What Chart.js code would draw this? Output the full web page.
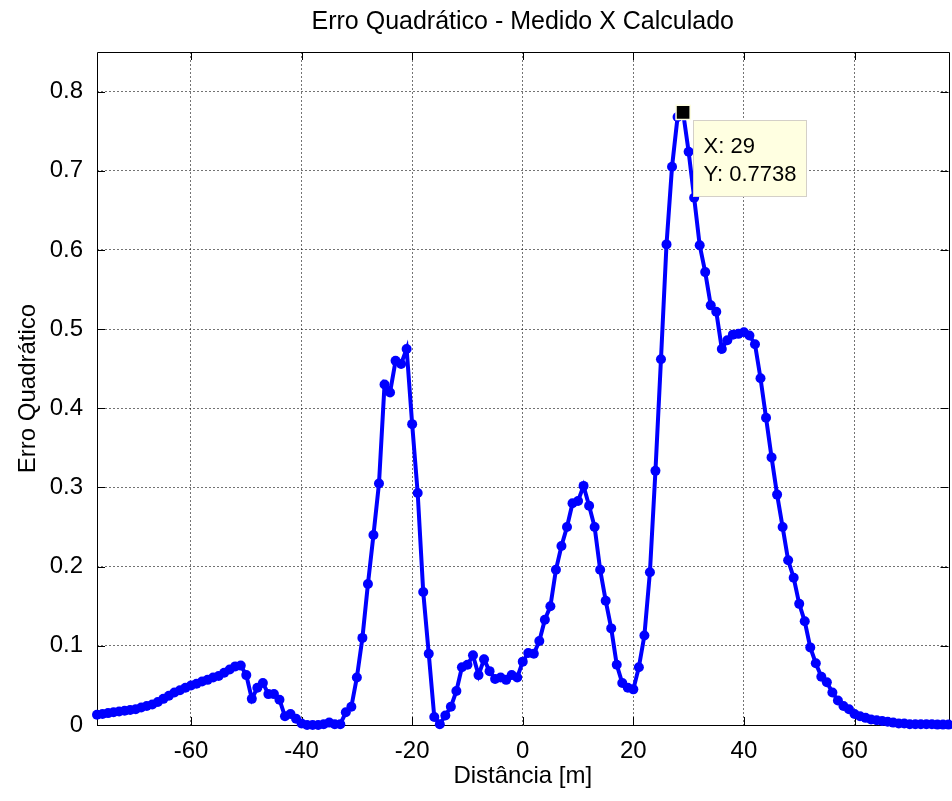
<!DOCTYPE html>
<html><head><meta charset="utf-8">
<style>
html,body{margin:0;padding:0;background:#fff;overflow:hidden;width:952px;height:801px}
#wrap{position:relative;width:960px;height:801px}
canvas{display:block}
</style>
<script src="https://cdn.jsdelivr.net/npm/chart.js@4.4.0/dist/chart.umd.min.js"></script>
</head><body><div id="wrap"><canvas id="c" width="960" height="801" style="width:960px;height:801px"></canvas></div>
<script>
const distance = [-77,-76,-75,-74,-73,-72,-71,-70,-69,-68,-67,-66,-65,-64,-63,-62,-61,-60,-59,-58,-57,-56,-55,-54,-53,-52,-51,-50,-49,-48,-47,-46,-45,-44,-43,-42,-41,-40,-39,-38,-37,-36,-35,-34,-33,-32,-31,-30,-29,-28,-27,-26,-25,-24,-23,-22,-21,-20,-19,-18,-17,-16,-15,-14,-13,-12,-11,-10,-9,-8,-7,-6,-5,-4,-3,-2,-1,0,1,2,3,4,5,6,7,8,9,10,11,12,13,14,15,16,17,18,19,20,21,22,23,24,25,26,27,28,29,30,31,32,33,34,35,36,37,38,39,40,41,42,43,44,45,46,47,48,49,50,51,52,53,54,55,56,57,58,59,60,61,62,63,64,65,66,67,68,69,70,71,72,73,74,75,76,77];
const erro = [0.013,0.014,0.015,0.016,0.017,0.018,0.019,0.020,0.022,0.024,0.026,0.029,0.033,0.037,0.041,0.044,0.047,0.050,0.052,0.055,0.057,0.060,0.062,0.066,0.070,0.074,0.075,0.063,0.033,0.047,0.053,0.039,0.039,0.032,0.011,0.014,0.008,0.002,0.000,0.000,0.000,0.001,0.003,0.001,0.001,0.016,0.023,0.060,0.110,0.178,0.240,0.305,0.430,0.420,0.460,0.456,0.475,0.380,0.293,0.168,0.090,0.010,0.001,0.012,0.023,0.043,0.073,0.076,0.088,0.063,0.083,0.068,0.058,0.060,0.057,0.063,0.060,0.080,0.091,0.090,0.106,0.133,0.150,0.196,0.226,0.250,0.280,0.283,0.302,0.277,0.250,0.196,0.157,0.122,0.076,0.053,0.047,0.045,0.073,0.113,0.193,0.321,0.462,0.607,0.705,0.768,0.7738,0.724,0.666,0.606,0.572,0.530,0.522,0.475,0.486,0.493,0.494,0.496,0.492,0.481,0.438,0.388,0.338,0.291,0.250,0.208,0.186,0.153,0.131,0.098,0.078,0.061,0.054,0.041,0.031,0.024,0.020,0.014,0.011,0.009,0.007,0.006,0.005,0.004,0.003,0.002,0.002,0.001,0.001,0.001,0.001,0.001,0.0005,0.0005,0.0005];
const xTickValues = [-60,-40,-20,0,20,40,60];
const yTickValues = [0,0.1,0.2,0.3,0.4,0.5,0.6,0.7,0.8];
const tipX = 29;
const tipY = 0.7738;
const titleText = 'Erro Quadrático - Medido X Calculado';
const xLabel = 'Distância [m]';
const yLabel = 'Erro Quadrático';

const FONT = "'Liberation Sans', Arial, sans-serif";
const points = distance.map((d,i)=>({x:d,y:erro[i]}));

const axesPlugin = {
  id:'axesBox',
  beforeDatasetsDraw(chart){
    const {ctx, chartArea:a, scales:{x,y}} = chart;
    ctx.save();
    ctx.strokeStyle='#000'; ctx.lineWidth=1;
    ctx.beginPath();
    ctx.rect(Math.round(a.left)+0.5, Math.round(a.top)+0.5, Math.round(a.right-a.left), Math.round(a.bottom-a.top));
    ctx.stroke();
    const L=8;
    ctx.beginPath();
    xTickValues.forEach(v=>{
      const px=Math.round(x.getPixelForValue(v))+0.5;
      ctx.moveTo(px,a.bottom); ctx.lineTo(px,a.bottom-L);
      ctx.moveTo(px,a.top); ctx.lineTo(px,a.top+L);
    });
    yTickValues.forEach(v=>{
      const py=Math.round(y.getPixelForValue(v))+0.5;
      ctx.moveTo(a.left,py); ctx.lineTo(a.left+L,py);
      ctx.moveTo(a.right,py); ctx.lineTo(a.right-L,py);
    });
    ctx.stroke();
    ctx.restore();
  },
  afterDraw(chart){
    const {ctx, scales:{x,y}} = chart;
    const px=x.getPixelForValue(tipX), py=y.getPixelForValue(tipY);
    const bx=Math.round(px+10)+0.5, by=Math.round(py+8)+0.5, bw=113, bh=76;
    ctx.save();
    ctx.fillStyle='#FFFFE1'; ctx.strokeStyle='#D4D0C8'; ctx.lineWidth=1;
    ctx.fillRect(bx,by,bw,bh); ctx.strokeRect(bx,by,bw,bh);
    ctx.fillStyle='#000'; ctx.font="22px "+FONT; ctx.textBaseline='middle'; ctx.textAlign='left';
    ctx.fillText('X: '+tipX, bx+10, by+26);
    ctx.fillText('Y: '+tipY, bx+10, by+54);
    ctx.restore();
  }
};

new Chart(document.getElementById('c'), {
  type:'line',
  data:{datasets:[
    {data:points, borderColor:'#0000FF', backgroundColor:'#0000FF', borderWidth:4, pointRadius:5, pointHoverRadius:5, pointBorderWidth:0, tension:0, clip:false, order:2},
    {data:[{x:tipX,y:tipY}], showLine:false, pointStyle:'rect', pointRadius:10, backgroundColor:'#000', borderColor:'#FFFFE1', pointBorderWidth:1.5, clip:false, order:1}
  ]},
  options:{
    responsive:false, animation:false, devicePixelRatio:1,
    layout:{padding:{left:0,right:5,top:0,bottom:0}},
    plugins:{
      legend:{display:false}, tooltip:{enabled:false},
      title:{display:true, fullSize:false, text:titleText, color:'#000', font:{family:FONT,size:25,weight:'normal'}, padding:{top:7,bottom:15}}
    },
    scales:{
      x:{type:'linear', min:-77, max:77,
        afterBuildTicks:s=>{s.ticks=xTickValues.map(v=>({value:v}));},
        afterFit:s=>{s.height=76;},
        ticks:{color:'#000', font:{family:FONT,size:24}, padding:12, maxRotation:0, autoSkip:false, callback:v=>String(v)},
        grid:{color:'rgba(0,0,0,0.55)', lineWidth:1, drawTicks:false},
        border:{display:false, dash:[2,2]},
        title:{display:true, text:xLabel, color:'#000', font:{family:FONT,size:24}, padding:{top:0,bottom:10}}
      },
      y:{type:'linear', min:0, max:0.85,
        afterBuildTicks:s=>{s.ticks=yTickValues.map(v=>({value:v}));},
        afterFit:s=>{s.width=97;},
        ticks:{color:'#000', font:{family:FONT,size:24}, padding:14, callback:v=> v===0?'0':v.toFixed(1)},
        grid:{color:'rgba(0,0,0,0.55)', lineWidth:1, drawTicks:false},
        border:{display:false, dash:[2,2]},
        title:{display:true, text:yLabel, color:'#000', font:{family:FONT,size:24}, padding:{top:14,bottom:0}}
      }
    }
  },
  plugins:[axesPlugin]
});
</script>
</body></html>
